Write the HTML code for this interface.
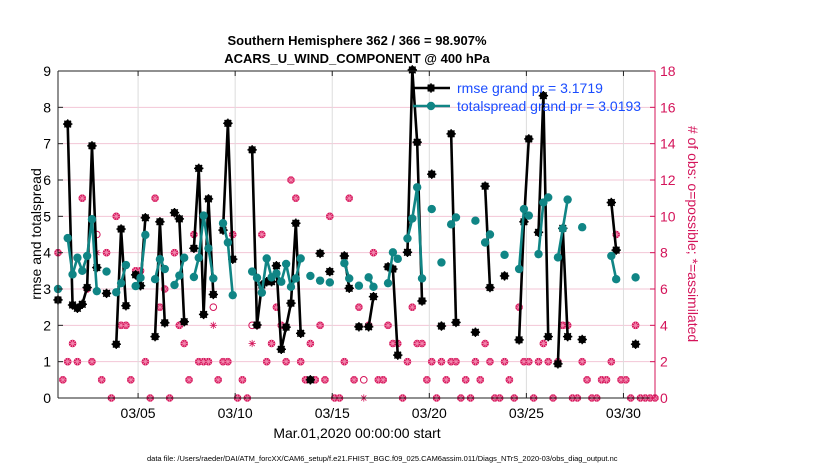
<!DOCTYPE html>
<html><head><meta charset="utf-8">
<style>
body{margin:0;background:#fff;}
svg{display:block;font-family:"Liberation Sans",Arial,sans-serif;}
</style></head>
<body>
<svg id="chart" width="830" height="470" viewBox="0 0 830 470">
<text x="357" y="45" text-anchor="middle" font-size="13" font-weight="bold">Southern Hemisphere 362 / 366 = 98.907%</text>
<text x="357" y="63" text-anchor="middle" font-size="13" font-weight="bold">ACARS_U_WIND_COMPONENT @ 400 hPa</text>
<g id="grid"></g>
<g id="marks"></g>
<g id="axes"></g>
<text transform="translate(41,234) rotate(-90)" text-anchor="middle" font-size="14">rmse and totalspread</text>
<text transform="translate(688,234) rotate(90)" text-anchor="middle" font-size="14" fill="#d4145a"># of obs: o=possible; *=assimilated</text>
<text x="357" y="438" text-anchor="middle" font-size="14">Mar.01,2020 00:00:00 start</text>
<text x="147" y="461" font-size="7.5">data file: /Users/raeder/DAI/ATM_forcXX/CAM6_setup/f.e21.FHIST_BGC.f09_025.CAM6assim.011/Diags_NTrS_2020-03/obs_diag_output.nc</text>
<g id="legend"></g>
</svg>
<script>
const xTickLabels=["03/05","03/10","03/15","03/20","03/25","03/30"];
const xTickIdx=[16.5,36.5,56.5,76.5,96.5,116.5];
const yLeftTicks=[0,1,2,3,4,5,6,7,8,9];
const yRightTicks=[0,2,4,6,8,10,12,14,16,18];
const timeIdx=[0,2,3,4,5,6,7,8,10,12,13,14,16,17,18,20,21,22,24,25,26,28,29,30,31,32,34,35,36,40,41,42,43,44,45,46,47,48,49,50,52,54,56,59,60,62,64,65,68,69,70,72,73,74,75,77,79,81,82,86,88,89,92,95,96,97,99,100,101,103,104,105,108,114,115,119];
const rmseVal=[2.70,7.54,2.56,2.47,2.58,3.04,6.94,3.59,2.88,1.48,4.65,2.54,3.39,3.09,4.96,1.69,4.85,2.07,5.10,4.93,2.10,4.12,6.32,2.30,5.48,2.85,4.62,7.56,3.82,6.83,2.01,3.11,3.20,3.20,3.64,1.34,1.95,2.61,4.81,1.78,0.50,3.98,3.48,3.91,3.02,1.96,1.96,2.79,3.61,3.55,1.18,4.01,9.03,7.04,2.67,6.16,1.98,7.27,2.08,1.81,5.83,3.04,3.36,1.60,4.85,7.13,4.56,8.32,1.69,0.94,4.67,1.69,1.61,5.38,4.07,1.48];
const spreadVal=[3.00,4.40,3.40,3.86,3.50,3.91,4.92,2.94,3.48,2.91,3.16,3.66,3.08,3.31,4.49,3.27,3.82,3.55,3.11,3.37,3.86,3.33,3.86,5.02,4.12,3.29,4.81,4.28,2.83,3.48,3.31,2.90,3.84,3.32,3.43,3.20,3.69,3.06,3.29,3.84,3.36,3.23,3.18,3.71,3.29,3.09,3.32,3.06,3.16,4.01,3.83,4.39,4.94,5.80,3.29,5.20,3.73,4.78,4.97,4.88,4.28,4.50,3.94,3.55,5.20,5.02,3.96,5.38,5.52,3.87,4.66,5.46,4.70,3.91,3.27,3.32];
const obsPossible=[8,1,2,3,2,11,6,2,9,1,8,0,10,4,4,1,7,7,2,0,11,5,6,0,8,4,3,1,9,2,2,2,5,1,2,2,9,0,1,0,4,4,9,2,3,5,4,2,12,11,2,1,3,1,4,1,10,0,0,2,11,1,5,1,4,8,1,1,4,3,3,0,2,5,3,3,1,2,0,2,1,2,2,0,1,0,2,1,3,2,0,0,2,1,0,5,2,2,0,2,3,2,0,2,4,4,0,0,2,1,0,0,1,1,2,9,1,1,0,4,0,0,0,0];
const obsAssim=[8,1,2,3,2,11,6,2,8,1,8,0,10,4,4,1,7,7,2,0,11,5,6,0,8,4,3,1,9,2,2,2,4,1,2,2,9,0,1,0,3,4,9,2,3,5,4,2,12,11,2,1,3,1,4,1,10,0,0,2,11,1,5,0,4,8,1,1,4,3,3,0,2,5,3,3,1,2,0,2,1,2,2,0,1,0,2,1,3,2,0,0,2,1,0,5,2,2,0,2,3,2,0,2,4,4,0,0,2,1,0,0,1,1,2,9,1,1,0,4,0,0,0,0];
const legendLabels=["rmse grand pr = 3.1719","totalspread grand pr = 3.0193"];

const NS="http://www.w3.org/2000/svg";
const X0=58,X1=655,Y0=398,Y1=71;
const xS=i=>X0+(X1-X0)*(i/123);
const yL=v=>Y0-(Y0-Y1)*(v/9);
const yR=v=>Y0-(Y0-Y1)*(v/18);
const PINK="#d4145a",TEAL="#108585";
function mk(tag,attrs,parent){const e=document.createElementNS(NS,tag);for(const k in attrs)e.setAttribute(k,attrs[k]);parent.appendChild(e);return e;}
const grid=document.getElementById('grid'),marks=document.getElementById('marks'),axes=document.getElementById('axes'),legend=document.getElementById('legend');

mk('rect',{x:X0,y:Y1,width:X1-X0,height:Y0-Y1,fill:'#fff'},grid);
yRightTicks.forEach(v=>{const l=mk('line',{x1:X0,x2:X1,y1:yR(v),y2:yR(v),stroke:'#f3c6d6','stroke-width':1},grid);

});
xTickIdx.forEach(i=>{const l=mk('line',{x1:xS(i),x2:xS(i),y1:Y1,y2:Y0,stroke:'#dcdcdc','stroke-width':1},grid);

});

function starMarker(cx,cy,r,color,g,name){
  const grp=mk('g',{},g);
  
  
  mk('circle',{cx:cx,cy:cy,r:r,fill:color},grp);
  for(let k=0;k<4;k++){const a=k*Math.PI/4;mk('line',{x1:cx-Math.cos(a)*(r+0.8),y1:cy-Math.sin(a)*(r+0.8),x2:cx+Math.cos(a)*(r+0.8),y2:cy+Math.sin(a)*(r+0.8),stroke:color,'stroke-width':1.4},grp);}
  return grp;
}

obsPossible.forEach((v,i)=>{
  if(v==null)return;
  const cx=xS(i),cy=yR(v);
  const c=mk('circle',{cx:cx,cy:cy,r:3.3,fill:'none',stroke:PINK,'stroke-width':1},marks);
  
  
});
obsAssim.forEach((v,i)=>{
  if(v==null)return;
  const cx=xS(i),cy=yR(v);
  const g=mk('g',{},marks);
  
  
  const same=obsPossible[i]===v;
  if(same) mk('circle',{cx:cx,cy:cy,r:3.6,fill:PINK},g);
  for(let k=0;k<4;k++){const a=k*Math.PI/4;mk('line',{x1:cx-Math.cos(a)*3.6,y1:cy-Math.sin(a)*3.6,x2:cx+Math.cos(a)*3.6,y2:cy+Math.sin(a)*3.6,stroke:same?'#f38bb0':PINK,'stroke-width':0.8},g);}
});

function drawSeries(vals,color,name,isStar){
  let seg=[];const segs=[];
  timeIdx.forEach((ti,k)=>{
    if(k>0&&ti!==timeIdx[k-1]+1){segs.push(seg);seg=[];}
    seg.push([xS(ti),yL(vals[k])]);
  });
  segs.push(seg);
  segs.forEach(s=>{if(s.length>1){const p=mk('polyline',{points:s.map(q=>q.join(',')).join(' '),fill:'none',stroke:color,'stroke-width':2.6,'stroke-linejoin':'round'},marks);
    
    }});
  timeIdx.forEach((ti,k)=>{
    if(isStar){starMarker(xS(ti),yL(vals[k]),3.9,color,marks,name+'-point');}
    else{const c=mk('circle',{cx:xS(ti),cy:yL(vals[k]),r:4.2,fill:color},marks);
      
      }
  });
}
drawSeries(rmseVal,'#000','rmse',true);
drawSeries(spreadVal,TEAL,'totalspread',false);

mk('line',{x1:X0,x2:X1,y1:Y1,y2:Y1,stroke:'#222','stroke-width':1},axes);
mk('line',{x1:X0,x2:X1,y1:Y0,y2:Y0,stroke:'#222','stroke-width':1},axes);
mk('line',{x1:X0,x2:X0,y1:Y1,y2:Y0,stroke:'#222','stroke-width':1},axes);
mk('line',{x1:X1,x2:X1,y1:Y1,y2:Y0,stroke:PINK,'stroke-width':1},axes);
yLeftTicks.forEach(v=>{
  mk('line',{x1:X0,x2:X0+5,y1:yL(v),y2:yL(v),stroke:'#222'},axes);
  const t=mk('text',{x:X0-7,y:yL(v)+5,'text-anchor':'end','font-size':14},axes);t.textContent=v;
  
  
});
yRightTicks.forEach(v=>{
  mk('line',{x1:X1-5,x2:X1,y1:yR(v),y2:yR(v),stroke:PINK},axes);
  const t=mk('text',{x:X1+5,y:yR(v)+5,'font-size':14,fill:PINK},axes);t.textContent=v;
  
  
});
xTickIdx.forEach((i,k)=>{
  mk('line',{x1:xS(i),x2:xS(i),y1:Y0,y2:Y0-5,stroke:'#222'},axes);
  mk('line',{x1:xS(i),x2:xS(i),y1:Y1,y2:Y1+5,stroke:'#222'},axes);
  const t=mk('text',{x:xS(i),y:418,'text-anchor':'middle','font-size':14},axes);t.textContent=xTickLabels[k];
  
  
});

const legColors=['#000',TEAL];
legendLabels.forEach((lab,k)=>{
  const y=88+k*18;
  const g=mk('g',{},legend);
  
  
  mk('line',{x1:413,x2:450,y1:y,y2:y,stroke:legColors[k],'stroke-width':2.6},g);
  if(k===0)starMarker(431,y,3.9,'#000',g,'legend-marker');
  else mk('circle',{cx:431,cy:y,r:4.2,fill:TEAL},g);
  const t=mk('text',{x:457,y:y+5,'font-size':14,fill:'#1a4cff'},g);t.textContent=lab;
});
</script>
</body></html>
